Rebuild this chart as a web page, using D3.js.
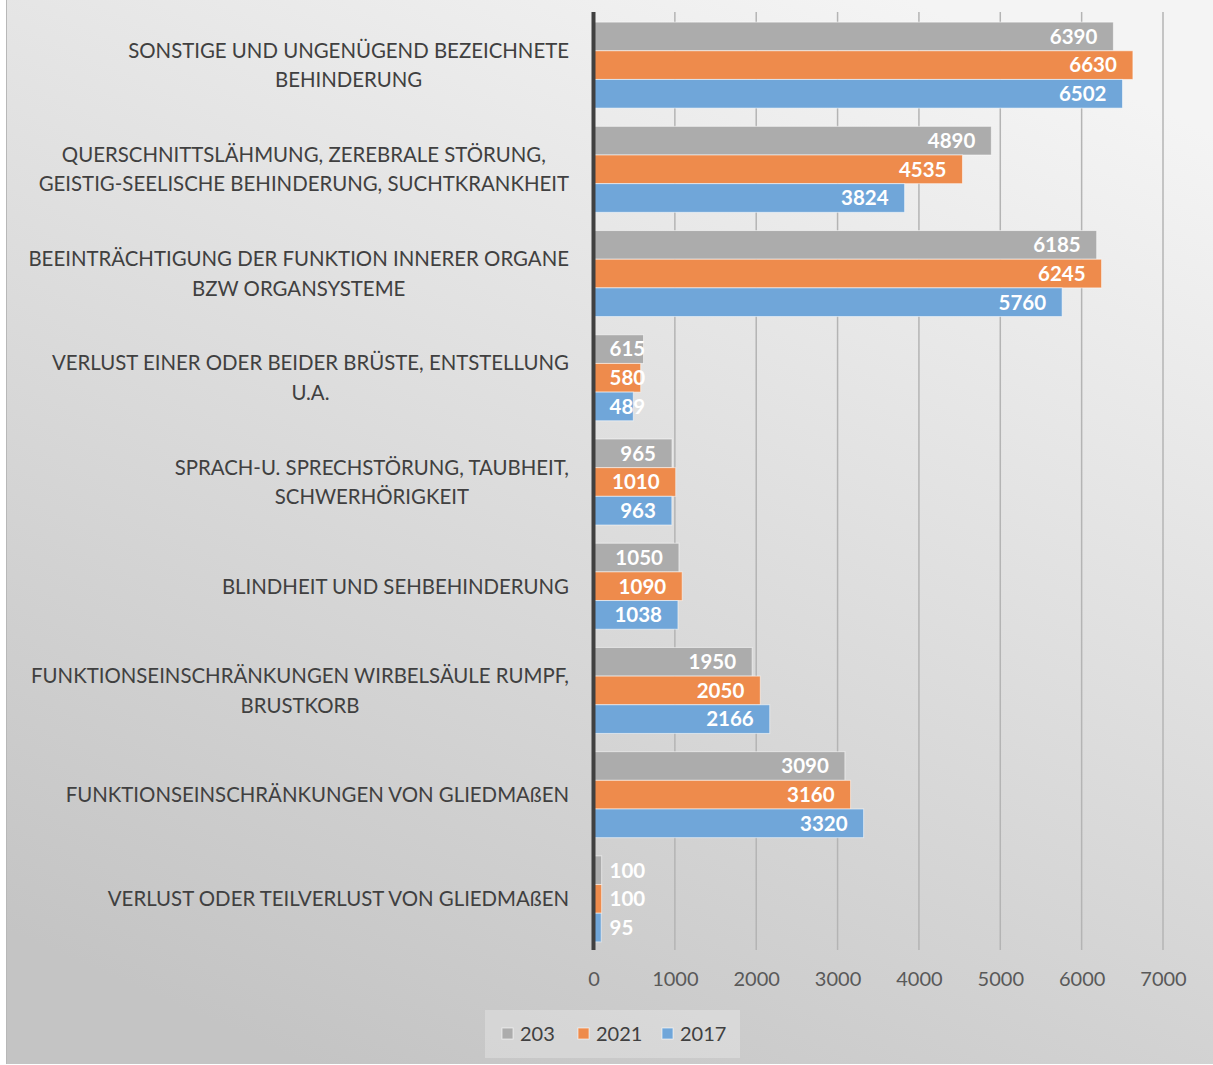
<!DOCTYPE html>
<html><head><meta charset="utf-8">
<script src="https://cdn.jsdelivr.net/npm/d3@7"></script>
<style>
html,body{margin:0;padding:0;background:#fff;}
svg{display:block;}
</style></head>
<body>
<svg id="chart" width="1213" height="1065"></svg>
<script>
const categories = [
  ["SONSTIGE UND UNGENÜGEND BEZEICHNETE", "BEHINDERUNG"],
  ["QUERSCHNITTSLÄHMUNG, ZEREBRALE STÖRUNG,", "GEISTIG-SEELISCHE BEHINDERUNG, SUCHTKRANKHEIT"],
  ["BEEINTRÄCHTIGUNG DER FUNKTION INNERER ORGANE", "BZW ORGANSYSTEME"],
  ["VERLUST EINER ODER BEIDER BRÜSTE, ENTSTELLUNG", "U.A."],
  ["SPRACH-U. SPRECHSTÖRUNG, TAUBHEIT,", "SCHWERHÖRIGKEIT"],
  ["BLINDHEIT UND SEHBEHINDERUNG"],
  ["FUNKTIONSEINSCHRÄNKUNGEN WIRBELSÄULE RUMPF,", "BRUSTKORB"],
  ["FUNKTIONSEINSCHRÄNKUNGEN VON GLIEDMAßEN"],
  ["VERLUST ODER TEILVERLUST VON GLIEDMAßEN"]
];
const seriesNames = ["203", "2021", "2017"];
const values203  = [6390, 4890, 6185, 615, 965, 1050, 1950, 3090, 100];
const values2021 = [6630, 4535, 6245, 580, 1010, 1090, 2050, 3160, 100];
const values2017 = [6502, 3824, 5760, 489, 963, 1038, 2166, 3320, 95];
const xTicks = [0, 1000, 2000, 3000, 4000, 5000, 6000, 7000];

const seriesValues = [values203, values2021, values2017];
const colors = ["#acacac", "#ee8b4c", "#70a6d9"];

const svg = d3.select("#chart");
const W = 1213, H = 1065;

// background
const defs = svg.append("defs");
const grad = defs.append("linearGradient").attr("id", "bg")
  .attr("x1", "0.75").attr("y1", "0").attr("x2", "0.25").attr("y2", "1");
grad.append("stop").attr("offset", "0").attr("stop-color", "#f4f4f4");
grad.append("stop").attr("offset", "1").attr("stop-color", "#c4c4c4");
svg.append("rect").attr("x", 6).attr("y", 0).attr("width", W - 6).attr("height", 1064)
  .attr("fill", "url(#bg)");
svg.append("line").attr("x1", 6.5).attr("x2", 6.5).attr("y1", 0).attr("y2", 1064)
  .attr("stroke", "#b8b8b8").attr("stroke-width", 1);

const plotTop = 12, plotBottom = 950;
const x = d3.scaleLinear().domain([0, 7000]).range([593.5, 1163]);
const y = d3.scaleBand().domain(d3.range(categories.length))
  .range([plotTop + 1, plotBottom + 1]).paddingInner(0.175).paddingOuter(0.0875);
const ySub = d3.scaleBand().domain(d3.range(seriesNames.length)).range([0, y.bandwidth()]);

// gridlines
const grid = svg.append("g");
grid.selectAll("line").data(xTicks.slice(1)).join("line")
  .attr("x1", d => x(d)).attr("x2", d => x(d))
  .attr("y1", plotTop).attr("y2", plotBottom)
  .attr("stroke", "#b4b4b4").attr("stroke-width", 1.5);

// x axis tick labels
const xAxis = d3.axisBottom(x).tickValues(xTicks).tickFormat(d3.format("d")).tickSize(0).tickPadding(0);
const xa = svg.append("g").attr("transform", `translate(0,${plotBottom + 22})`).call(xAxis);
xa.select(".domain").remove();
xa.selectAll("text").attr("font-family", "Lato, 'Open Sans', sans-serif")
  .attr("font-size", 20).attr("fill", "#595959").attr("dy", "0.71em");

// bars
const groups = svg.append("g").selectAll("g").data(categories).join("g")
  .attr("transform", (d, i) => `translate(0,${y(i)})`);

groups.each(function(cat, i) {
  const g = d3.select(this);
  seriesNames.forEach((s, j) => {
    const v = seriesValues[j][i];
    g.append("rect")
      .attr("x", x(0)).attr("y", ySub(j))
      .attr("width", x(v) - x(0)).attr("height", ySub.bandwidth())
      .attr("fill", colors[j])
      .attr("stroke", "rgba(255,255,255,0.55)").attr("stroke-width", 1);
  });
});

// data labels
groups.each(function(cat, i) {
  const g = d3.select(this);
  seriesNames.forEach((s, j) => {
    const v = seriesValues[j][i];
    const t = g.append("text")
      .attr("y", ySub(j) + ySub.bandwidth() / 2)
      .attr("dy", "0.36em")
      .attr("font-family", "Lato, 'Open Sans', sans-serif")
      .attr("font-weight", "bold").attr("font-size", 20.5)
      .attr("fill", "#ffffff").text(v);
    const w = t.node().getComputedTextLength();
    const left = Math.max(x(v) - 16 - w, x(0) + 16);
    t.attr("x", left);
  });
});

// axis line
svg.append("line").attr("x1", x(0)).attr("x2", x(0))
  .attr("y1", plotTop).attr("y2", plotBottom)
  .attr("stroke", "#404040").attr("stroke-width", 4);

// category labels
const labelRight = 569, lineH = 29.5;
groups.each(function(lines, i) {
  const g = d3.select(this);
  const t = g.append("text")
    .attr("font-family", "Lato, 'Open Sans', sans-serif")
    .attr("font-size", 20.4).attr("fill", "#404040")
    .attr("text-anchor", "middle");
  const cy = y.bandwidth() / 2;
  lines.forEach((ln, k) => {
    t.append("tspan").attr("y", cy + (k - (lines.length - 1) / 2) * lineH)
      .attr("dy", "0.36em").text(ln);
  });
  let maxW = 0;
  t.selectAll("tspan").each(function() { maxW = Math.max(maxW, this.getComputedTextLength()); });
  t.selectAll("tspan").attr("x", labelRight - maxW / 2);
});

// legend
const lg = svg.append("g");
lg.append("rect").attr("x", 485).attr("y", 1010).attr("width", 255).attr("height", 48)
  .attr("fill", "rgba(255,255,255,0.25)");
const legX = [502, 578, 662];
seriesNames.forEach((s, j) => {
  lg.append("rect").attr("x", legX[j]).attr("y", 1028).attr("width", 11).attr("height", 11)
    .attr("fill", colors[j]).attr("stroke", "rgba(255,255,255,0.6)");
  lg.append("text").attr("x", legX[j] + 18).attr("y", 1034).attr("dy", "0.36em")
    .attr("font-family", "Lato, 'Open Sans', sans-serif")
    .attr("font-size", 20).attr("fill", "#404040").text(s);
});
</script>
</body></html>
